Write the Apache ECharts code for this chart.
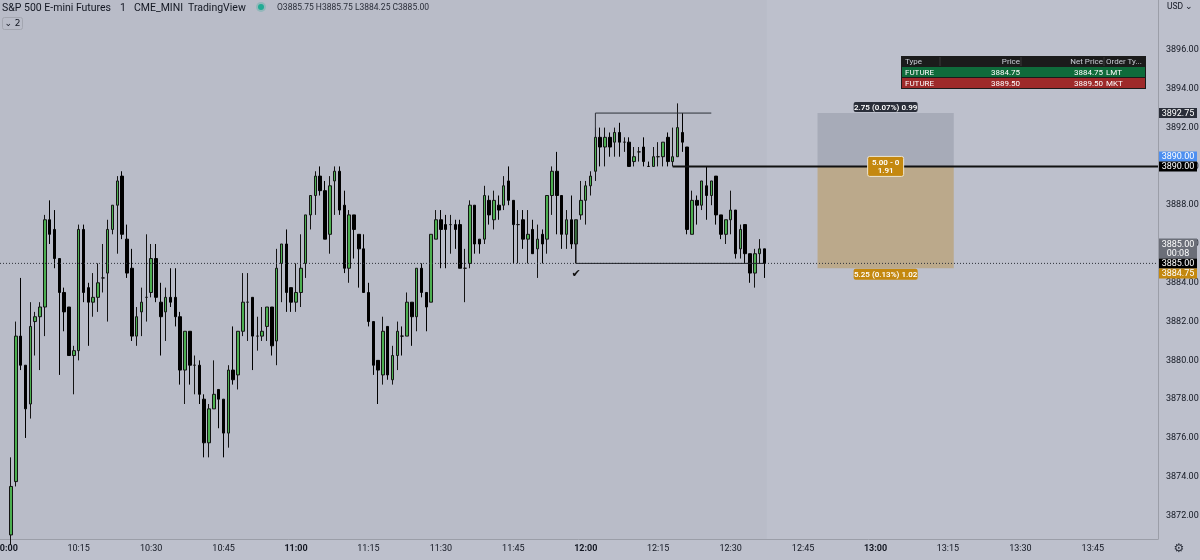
<!DOCTYPE html>
<html>
<head>
<meta charset="utf-8">
<title>S&P 500 E-mini Futures 1m</title>
<script src="https://cdn.jsdelivr.net/npm/echarts@6/dist/echarts.min.js"></script>
<style>
  html, body { margin: 0; padding: 0; background: #bdc0cc; }
  #chart { width: 1200px; height: 560px; }
</style>
</head>
<body>
<div id="chart"></div>
<script>
// one-minute bars, first bar at 10:01, last at 12:37
const firstBar = '10:01';
const axisStart = '09:59';
const axisEnd = '13:58';

const opens = [
  3871.00, 3873.75, 3881.25, 3879.75, 3877.75, 3882.00, 3882.25, 3882.75, 3887.25, 3886.75,
  3885.25, 3883.50, 3882.75, 3880.25, 3880.50, 3886.75, 3883.75, 3883.00, 3883.25, 3884.25,
  3884.50, 3886.75, 3888.00, 3889.50, 3886.25, 3884.75, 3881.25, 3882.50, 3883.25, 3883.50,
  3885.25, 3883.00, 3882.50, 3883.25, 3883.25, 3882.25, 3879.50, 3881.50, 3879.75, 3879.75,
  3878.00, 3875.75, 3877.50, 3878.50, 3878.00, 3876.25, 3879.50, 3879.25, 3881.50, 3883.00,
  3883.25, 3881.25, 3881.25, 3881.75, 3882.75, 3881.00, 3885.00, 3886.00, 3883.75, 3883.00,
  3883.50, 3885.00, 3887.50, 3888.50, 3889.50, 3888.75, 3886.50, 3889.25, 3889.75, 3888.00,
  3884.75, 3887.50, 3886.50, 3885.75, 3883.50, 3882.00, 3880.00, 3879.25, 3881.75, 3879.00,
  3880.25, 3881.25, 3881.25, 3883.00, 3882.25, 3884.75, 3883.50, 3883.00, 3886.25, 3887.25,
  3887.00, 3887.00, 3887.00, 3887.00, 3884.75, 3885.00, 3888.00, 3886.25, 3886.25, 3888.25,
  3887.25, 3888.00, 3888.00, 3889.25, 3888.25, 3887.00, 3887.25, 3886.25, 3886.75, 3885.75,
  3886.50, 3886.25, 3888.50, 3889.75, 3888.50, 3886.50, 3887.25, 3886.00, 3887.50, 3888.25,
  3889.00, 3889.75, 3891.50, 3891.00, 3891.50, 3891.25, 3891.75, 3891.25, 3891.25, 3890.25,
  3890.75, 3891.00, 3890.00, 3890.00, 3890.50, 3890.50, 3891.50, 3890.25, 3890.50, 3891.75,
  3891.00, 3886.50, 3888.25, 3888.00, 3889.00, 3888.50, 3889.50, 3887.50, 3886.50, 3887.25,
  3887.75, 3885.75, 3887.00, 3885.50, 3884.50, 3885.50, 3885.75
];
const closes = [
  3873.50, 3881.25, 3879.75, 3877.50, 3881.75, 3882.25, 3882.75, 3887.25, 3886.50, 3885.25,
  3883.50, 3882.50, 3880.25, 3880.50, 3886.75, 3883.50, 3883.00, 3883.25, 3884.00, 3884.25,
  3886.75, 3888.00, 3889.25, 3886.50, 3884.50, 3881.25, 3882.25, 3883.00, 3883.25, 3885.25,
  3883.25, 3882.25, 3883.25, 3883.00, 3882.25, 3879.50, 3881.50, 3879.75, 3879.75, 3878.25,
  3875.75, 3877.50, 3878.25, 3878.00, 3876.25, 3879.50, 3879.00, 3881.50, 3883.00, 3883.00,
  3881.25, 3881.25, 3881.50, 3882.75, 3880.75, 3884.75, 3886.00, 3883.50, 3883.00, 3883.50,
  3884.75, 3887.50, 3888.50, 3889.50, 3888.75, 3886.25, 3889.00, 3889.75, 3887.75, 3884.75,
  3887.50, 3886.75, 3885.75, 3883.50, 3882.00, 3879.75, 3879.50, 3881.50, 3879.25, 3880.25,
  3881.50, 3881.25, 3883.00, 3882.25, 3884.75, 3883.50, 3882.75, 3886.50, 3887.25, 3886.75,
  3886.75, 3887.00, 3886.75, 3884.75, 3884.75, 3888.00, 3886.00, 3886.00, 3888.50, 3887.50,
  3888.25, 3887.75, 3889.00, 3888.25, 3887.00, 3887.00, 3886.25, 3886.50, 3885.50, 3886.25,
  3886.00, 3888.50, 3889.75, 3888.50, 3886.50, 3887.25, 3886.00, 3887.25, 3888.25, 3889.00,
  3889.50, 3891.50, 3891.00, 3891.50, 3891.00, 3891.75, 3891.25, 3891.25, 3890.00, 3890.50,
  3890.75, 3890.25, 3890.00, 3890.50, 3890.50, 3891.25, 3890.25, 3890.50, 3892.00, 3891.25,
  3886.75, 3888.25, 3888.00, 3889.25, 3888.50, 3889.25, 3887.50, 3886.50, 3887.25, 3887.75,
  3885.50, 3886.75, 3885.50, 3884.50, 3885.50, 3885.75, 3885.00
];
const lows = [
  3870.50, 3873.50, 3879.50, 3876.00, 3877.00, 3880.25, 3879.50, 3881.25, 3886.00, 3884.75,
  3879.25, 3881.50, 3880.25, 3878.25, 3880.00, 3883.00, 3880.75, 3882.25, 3882.50, 3883.50,
  3882.00, 3886.50, 3885.50, 3886.25, 3884.25, 3881.00, 3880.75, 3881.25, 3882.00, 3883.25,
  3883.00, 3880.25, 3881.00, 3882.75, 3881.75, 3878.75, 3877.75, 3878.75, 3878.25, 3877.75,
  3875.00, 3875.00, 3877.50, 3876.50, 3875.00, 3875.50, 3878.75, 3878.50, 3881.25, 3881.00,
  3879.50, 3880.50, 3881.00, 3881.00, 3880.25, 3879.75, 3883.00, 3882.50, 3882.50, 3882.50,
  3882.75, 3884.25, 3886.75, 3887.50, 3888.50, 3886.25, 3885.50, 3887.50, 3887.50, 3884.50,
  3884.00, 3885.25, 3883.75, 3883.50, 3881.75, 3879.25, 3877.75, 3878.75, 3879.00, 3878.75,
  3879.50, 3880.25, 3881.25, 3880.75, 3881.50, 3883.25, 3881.50, 3883.00, 3886.25, 3884.75,
  3884.75, 3885.50, 3885.75, 3884.75, 3883.00, 3884.75, 3885.50, 3885.50, 3886.00, 3887.00,
  3886.75, 3887.25, 3887.75, 3888.00, 3885.00, 3885.00, 3885.75, 3885.00, 3885.50, 3884.25,
  3885.00, 3885.50, 3887.50, 3886.50, 3885.75, 3885.75, 3885.75, 3885.00, 3887.25, 3887.00,
  3888.50, 3889.25, 3890.00, 3890.00, 3890.50, 3890.50, 3890.50, 3890.75, 3890.00, 3890.00,
  3890.25, 3890.00, 3890.00, 3890.00, 3890.00, 3890.00, 3890.00, 3890.00, 3890.50, 3890.75,
  3886.50, 3886.50, 3887.00, 3887.75, 3887.25, 3888.00, 3887.00, 3886.25, 3886.00, 3886.50,
  3885.25, 3885.25, 3885.00, 3884.00, 3883.75, 3885.00, 3884.25
];
const highs = [
  3875.00, 3882.00, 3884.25, 3879.75, 3883.00, 3882.50, 3883.00, 3887.50, 3888.25, 3887.75,
  3885.25, 3883.75, 3882.75, 3880.75, 3887.00, 3887.00, 3884.00, 3884.50, 3885.00, 3886.00,
  3887.25, 3888.00, 3889.50, 3889.75, 3887.00, 3885.75, 3882.75, 3883.75, 3886.50, 3886.00,
  3886.00, 3884.00, 3883.75, 3884.75, 3884.75, 3882.50, 3881.50, 3881.50, 3880.25, 3880.00,
  3878.25, 3877.75, 3880.00, 3878.50, 3878.00, 3879.75, 3881.75, 3881.50, 3884.50, 3884.50,
  3883.25, 3882.25, 3882.75, 3882.75, 3882.75, 3885.75, 3886.00, 3886.75, 3883.75, 3885.00,
  3886.50, 3887.50, 3888.50, 3889.75, 3890.00, 3889.25, 3889.50, 3890.00, 3890.00, 3888.75,
  3887.75, 3887.50, 3886.50, 3886.50, 3884.00, 3882.00, 3880.00, 3882.25, 3881.75, 3880.75,
  3882.00, 3881.75, 3883.50, 3883.00, 3884.75, 3885.00, 3883.50, 3886.50, 3887.75, 3887.75,
  3887.50, 3887.50, 3887.25, 3887.25, 3885.75, 3888.25, 3888.00, 3886.25, 3889.00, 3888.50,
  3888.75, 3888.50, 3889.50, 3890.00, 3888.25, 3887.75, 3887.75, 3887.75, 3887.25, 3887.00,
  3886.75, 3888.50, 3890.00, 3890.75, 3888.50, 3887.75, 3888.50, 3887.25, 3889.25, 3889.25,
  3889.75, 3892.00, 3892.00, 3892.00, 3891.75, 3892.00, 3892.25, 3891.50, 3891.50, 3891.00,
  3891.00, 3891.50, 3890.25, 3891.00, 3891.25, 3891.25, 3891.75, 3892.00, 3893.25, 3892.75,
  3891.00, 3888.75, 3888.50, 3889.25, 3890.00, 3889.25, 3889.50, 3887.50, 3887.25, 3888.75,
  3887.75, 3887.00, 3887.00, 3885.50, 3885.75, 3886.25, 3885.75
];

// price axis labels
const priceTicks = [3872, 3874, 3876, 3878, 3880, 3882, 3884, 3886, 3888, 3890, 3892, 3894, 3896];

// orders panel
const orderHeader = ['Type', 'Price', 'Net Price', 'Order Ty...'];
const orderRows = [
  ['FUTURE', '3884.75', '3884.75', 'LMT'],
  ['FUTURE', '3889.50', '3889.50', 'MKT']
];

function toMin(s) { const p = s.split(':'); return (+p[0]) * 60 + (+p[1]); }
function hhmm(m) { return String(Math.floor(m / 60)).padStart(2, '0') + ':' + String(m % 60).padStart(2, '0'); }

const times = [];
for (let m = toMin(axisStart); m <= toMin(axisEnd); m++) times.push(hhmm(m));
const offset = times.indexOf(firstBar);
const bars = opens.map((o, i) => [times[offset + i], o, closes[i], lows[i], highs[i]]);
const lastTime = times[offset + opens.length - 1];

const FONT = 'Roboto, "Noto Sans", sans-serif';
const TXT = '#131722';

const chart = echarts.init(document.getElementById('chart'));

chart.setOption({
  animation: false,
  backgroundColor: '#bdc0cc',
  grid: { left: -1, right: 42, top: 0, bottom: 21, outerBoundsMode: 'none', containLabel: false },
  xAxis: {
    type: 'category',
    data: times,
    boundaryGap: true,
    axisLine: { lineStyle: { color: '#9b9ea8', width: 1 } },
    axisTick: { show: false },
    splitLine: { show: false },
    axisLabel: {
      interval: (i, v) => toMin(v) % 15 === 0,
      formatter: v => (toMin(v) % 60 === 0 ? '{b|' + v + '}' : v),
      color: TXT,
      fontSize: 9,
      fontFamily: FONT,
      margin: 5,
      hideOverlap: false,
      rich: { b: { fontWeight: 'bold', fontSize: 9, fontFamily: FONT, color: TXT } }
    }
  },
  yAxis: {
    type: 'value',
    position: 'right',
    min: 3870.79,
    max: 3898.58,
    splitLine: { show: false },
    axisTick: { show: false },
    axisLine: { show: true, lineStyle: { color: '#9b9ea8' } },
    axisLabel: {
      customValues: priceTicks,
      formatter: v => v.toFixed(2),
      color: TXT,
      fontSize: 9,
      fontFamily: FONT,
      margin: 8
    }
  },
  series: [{
    type: 'candlestick',
    data: bars,
    encode: { x: 0, y: [1, 2, 3, 4] },
    barWidth: 3,
    z: 5,
    itemStyle: {
      color: '#4caf50',
      color0: '#000000',
      borderColor: '#141414',
      borderColor0: '#000000',
      borderWidth: 1
    }
  }]
});

// overlays placed with the chart's own scales
const xOf = t => chart.convertToPixel({ xAxisIndex: 0 }, t);
const yOf = v => chart.convertToPixel({ yAxisIndex: 0 }, v);
const bw = xOf(times[1]) - xOf(times[0]);
const plotRight = xOf(axisEnd) + bw / 2;
const plotBottom = yOf(3870.79);

const g = [];
function text(x, y, s, font, fill, align, valign, z) {
  g.push({ type: 'text', x: x, y: y, z: z || 60,
    style: { text: s, font: font, fill: fill, align: align || 'left', verticalAlign: valign || 'middle' } });
}
function rect(x, y, w, h, fill, z, extra) {
  g.push(Object.assign({ type: 'rect', z: z || 50, shape: { x: x, y: y, width: w, height: h, r: 0 },
    style: { fill: fill } }, extra || {}));
}
function line(x1, y1, x2, y2, stroke, width, dash, z) {
  g.push({ type: 'line', z: z || 40, shape: { x1: x1, y1: y1, x2: x2, y2: y2 },
    style: { stroke: stroke, lineWidth: width || 1, lineDash: dash || null } });
}

// darker session area behind the bars
rect(0, 0, xOf(lastTime) + bw / 2, plotBottom, '#b9bcc8', 1, { silent: true });

// position tool
const pL = xOf('12:48'), pR = xOf('13:16') + 1;
rect(pL, yOf(3892.75), pR - pL, yOf(3890) - yOf(3892.75), '#a7abb8', 20);
rect(pL, yOf(3890), pR - pL, yOf(3884.75) - yOf(3890), '#bba98b', 20);

// last price dotted line
line(0, yOf(3885), plotRight, yOf(3885), '#2d3038', 1, [1, 2], 30);

// order line at 3890
line(xOf('12:18'), yOf(3890), plotRight, yOf(3890), '#111111', 2, null, 35);

// top bracket
g.push({ type: 'polyline', z: 35, shape: { points: [
  [xOf('12:02'), yOf(3891.5)], [xOf('12:02'), yOf(3892.75)], [xOf('12:26'), yOf(3892.75)]
] }, style: { stroke: '#2d3038', lineWidth: 1, fill: null } });

// bottom bracket
g.push({ type: 'polyline', z: 35, shape: { points: [
  [xOf('11:58'), yOf(3887.25)], [xOf('11:58'), yOf(3885)], [xOf(lastTime), yOf(3885)]
] }, style: { stroke: '#1f2127', lineWidth: 1, fill: null } });
text(xOf('11:58'), yOf(3884.45), '✔', 'bold 11px "DejaVu Sans"', '#111111', 'center', 'middle', 40);

// position tool labels
const pC = (pL + pR) / 2;
function pill(cx, cy, w, h, s, bg, border) {
  g.push({ type: 'rect', z: 55, shape: { x: cx - w / 2, y: cy - h / 2, width: w, height: h, r: 2 },
    style: { fill: bg, stroke: border || null, lineWidth: border ? 1 : 0 } });
  text(cx, cy + 0.5, s, '600 8px ' + FONT, '#ffffff', 'center', 'middle', 56);
}
pill(pC, yOf(3892.75) - 6, 64, 10, '2.75 (0.07%) 0.99', '#2a2e39');
pill(pC, yOf(3890), 36, 20, '5.00 - 0\n1.91', '#c4880f', '#eee6d4');
pill(pC, yOf(3884.75) + 6, 64, 11, '5.25 (0.13%) 1.02', '#c4880f');

// price scale tags
const tagX = plotRight + 1, tagW = 38;
function tag(cy, s, bg, h) {
  h = h || 10;
  rect(tagX, cy - h / 2, tagW, h, bg, 70);
  text(tagX + tagW / 2, cy + 0.5, s, '9px ' + FONT, '#ffffff', 'center', 'middle', 71);
}
tag(yOf(3892.75), '3892.75', '#2a2e39');
tag(yOf(3890) - 10, '3890.00', '#4d8ff0');
tag(yOf(3890), '3890.00', '#000000');
tag(yOf(3885) - 15, '3885.00\n00:08', '#6b6e78', 20);
tag(yOf(3885), '3885.00', '#000000');
tag(yOf(3885) + 10, '3884.75', '#c4880f');

// orders panel
const tx = 901, ty = 56, tw = 245;
rect(tx, ty, tw, 33, '#1b1b1b', 80);
rect(tx + 1, ty + 11, tw - 2, 10, '#0f6b3b', 81);
rect(tx + 1, ty + 22, tw - 2, 10, '#9e2a2a', 81);
[940, 1021, 1104].forEach(x => line(x, ty + 1, x, ty + 10, '#3a3a3a', 1, null, 82));
const colX = [905, 1020, 1103, 1106];
const colA = ['left', 'right', 'right', 'left'];
orderHeader.forEach((s, i) => text(colX[i], ty + 6, s, '8px ' + FONT, '#c9ccd4', colA[i], 'middle', 83));
orderRows.forEach((row, r) => row.forEach((s, i) =>
  text(colX[i], ty + 16.5 + r * 11, s, '8px ' + FONT, '#ffffff', colA[i], 'middle', 83)));

// header
text(2, 8, 'S&P 500 E-mini Futures', '10.5px ' + FONT, TXT, 'left', 'middle', 90);
text(120, 8, '1', '10.5px ' + FONT, TXT, 'left', 'middle', 90);
text(134, 8, 'CME_MINI', '10.5px ' + FONT, TXT, 'left', 'middle', 90);
text(188, 8, 'TradingView', '10.5px ' + FONT, TXT, 'left', 'middle', 90);
g.push({ type: 'circle', z: 90, shape: { cx: 261, cy: 7, r: 5 }, style: { fill: 'rgba(34,171,148,0.25)' } });
g.push({ type: 'circle', z: 91, shape: { cx: 261, cy: 7, r: 3 }, style: { fill: '#22ab94' } });
text(277, 8, 'O3885.75 H3885.75 L3884.25 C3885.00', '8.5px ' + FONT, '#2a2e39', 'left', 'middle', 90);
g.push({ type: 'rect', z: 90, shape: { x: 2.5, y: 17.5, width: 20, height: 12, r: 2 },
  style: { fill: null, stroke: '#a3a6b0', lineWidth: 1 } });
text(12.5, 24, '⌄ 2', '9px "DejaVu Sans"', TXT, 'center', 'middle', 91);

// scale corner bits
text(1167, 7, 'USD ⌄', '8.5px ' + FONT, TXT, 'left', 'middle', 90);
text(1179, 549, '⚙', '12px "DejaVu Sans"', '#2a2e39', 'center', 'middle', 90);

chart.setOption({ graphic: g });
</script>
</body>
</html>
